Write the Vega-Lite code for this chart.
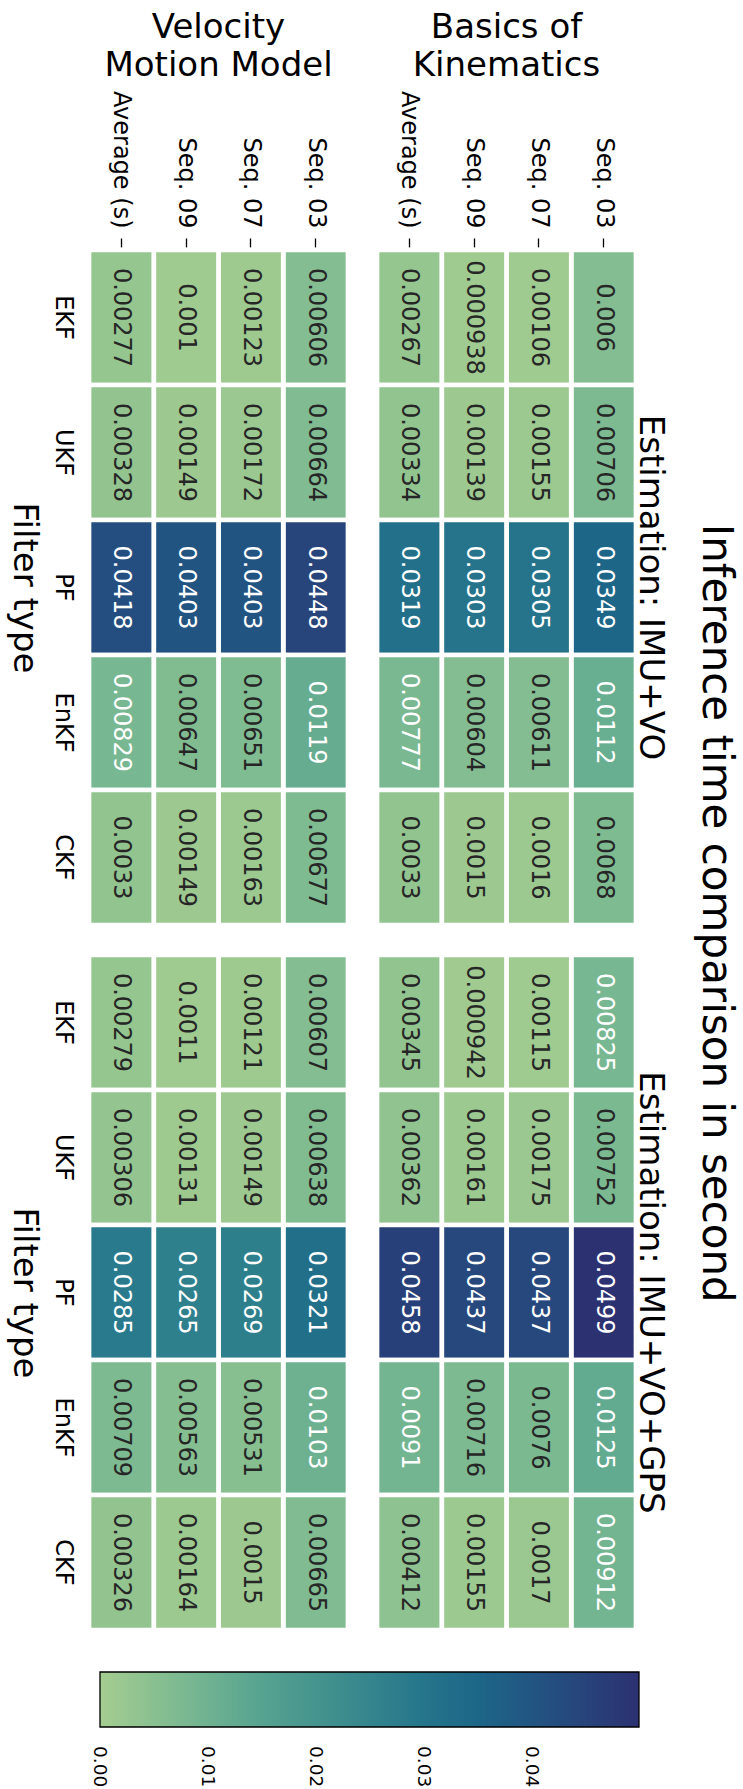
{
  "$schema": "https://vega.github.io/schema/vega-lite/v6.json",
  "background": "white",
  "padding": {"left": 6, "top": 10, "right": 6, "bottom": 2},
  "title": {
    "text": "Inference time comparison in second",
    "orient": "right",
    "anchor": "middle",
    "frame": "bounds",
    "fontSize": 42,
    "fontWeight": "normal",
    "font": "DejaVu Sans",
    "color": "black",
    "offset": 27,
    "dx": 14
  },
  "data": {
    "values": [
      {"model": "Basics of Kinematics", "est": "Estimation: IMU+VO", "seq": "Seq. 03", "filter": "EKF", "value": 0.006},
      {"model": "Basics of Kinematics", "est": "Estimation: IMU+VO", "seq": "Seq. 03", "filter": "UKF", "value": 0.00706},
      {"model": "Basics of Kinematics", "est": "Estimation: IMU+VO", "seq": "Seq. 03", "filter": "PF", "value": 0.0349},
      {"model": "Basics of Kinematics", "est": "Estimation: IMU+VO", "seq": "Seq. 03", "filter": "EnKF", "value": 0.0112},
      {"model": "Basics of Kinematics", "est": "Estimation: IMU+VO", "seq": "Seq. 03", "filter": "CKF", "value": 0.0068},
      {"model": "Basics of Kinematics", "est": "Estimation: IMU+VO", "seq": "Seq. 07", "filter": "EKF", "value": 0.00106},
      {"model": "Basics of Kinematics", "est": "Estimation: IMU+VO", "seq": "Seq. 07", "filter": "UKF", "value": 0.00155},
      {"model": "Basics of Kinematics", "est": "Estimation: IMU+VO", "seq": "Seq. 07", "filter": "PF", "value": 0.0305},
      {"model": "Basics of Kinematics", "est": "Estimation: IMU+VO", "seq": "Seq. 07", "filter": "EnKF", "value": 0.00611},
      {"model": "Basics of Kinematics", "est": "Estimation: IMU+VO", "seq": "Seq. 07", "filter": "CKF", "value": 0.0016},
      {"model": "Basics of Kinematics", "est": "Estimation: IMU+VO", "seq": "Seq. 09", "filter": "EKF", "value": 0.000938},
      {"model": "Basics of Kinematics", "est": "Estimation: IMU+VO", "seq": "Seq. 09", "filter": "UKF", "value": 0.00139},
      {"model": "Basics of Kinematics", "est": "Estimation: IMU+VO", "seq": "Seq. 09", "filter": "PF", "value": 0.0303},
      {"model": "Basics of Kinematics", "est": "Estimation: IMU+VO", "seq": "Seq. 09", "filter": "EnKF", "value": 0.00604},
      {"model": "Basics of Kinematics", "est": "Estimation: IMU+VO", "seq": "Seq. 09", "filter": "CKF", "value": 0.0015},
      {"model": "Basics of Kinematics", "est": "Estimation: IMU+VO", "seq": "Average (s)", "filter": "EKF", "value": 0.00267},
      {"model": "Basics of Kinematics", "est": "Estimation: IMU+VO", "seq": "Average (s)", "filter": "UKF", "value": 0.00334},
      {"model": "Basics of Kinematics", "est": "Estimation: IMU+VO", "seq": "Average (s)", "filter": "PF", "value": 0.0319},
      {"model": "Basics of Kinematics", "est": "Estimation: IMU+VO", "seq": "Average (s)", "filter": "EnKF", "value": 0.00777},
      {"model": "Basics of Kinematics", "est": "Estimation: IMU+VO", "seq": "Average (s)", "filter": "CKF", "value": 0.0033},

      {"model": "Basics of Kinematics", "est": "Estimation: IMU+VO+GPS", "seq": "Seq. 03", "filter": "EKF", "value": 0.00825},
      {"model": "Basics of Kinematics", "est": "Estimation: IMU+VO+GPS", "seq": "Seq. 03", "filter": "UKF", "value": 0.00752},
      {"model": "Basics of Kinematics", "est": "Estimation: IMU+VO+GPS", "seq": "Seq. 03", "filter": "PF", "value": 0.0499},
      {"model": "Basics of Kinematics", "est": "Estimation: IMU+VO+GPS", "seq": "Seq. 03", "filter": "EnKF", "value": 0.0125},
      {"model": "Basics of Kinematics", "est": "Estimation: IMU+VO+GPS", "seq": "Seq. 03", "filter": "CKF", "value": 0.00912},
      {"model": "Basics of Kinematics", "est": "Estimation: IMU+VO+GPS", "seq": "Seq. 07", "filter": "EKF", "value": 0.00115},
      {"model": "Basics of Kinematics", "est": "Estimation: IMU+VO+GPS", "seq": "Seq. 07", "filter": "UKF", "value": 0.00175},
      {"model": "Basics of Kinematics", "est": "Estimation: IMU+VO+GPS", "seq": "Seq. 07", "filter": "PF", "value": 0.0437},
      {"model": "Basics of Kinematics", "est": "Estimation: IMU+VO+GPS", "seq": "Seq. 07", "filter": "EnKF", "value": 0.0076},
      {"model": "Basics of Kinematics", "est": "Estimation: IMU+VO+GPS", "seq": "Seq. 07", "filter": "CKF", "value": 0.0017},
      {"model": "Basics of Kinematics", "est": "Estimation: IMU+VO+GPS", "seq": "Seq. 09", "filter": "EKF", "value": 0.000942},
      {"model": "Basics of Kinematics", "est": "Estimation: IMU+VO+GPS", "seq": "Seq. 09", "filter": "UKF", "value": 0.00161},
      {"model": "Basics of Kinematics", "est": "Estimation: IMU+VO+GPS", "seq": "Seq. 09", "filter": "PF", "value": 0.0437},
      {"model": "Basics of Kinematics", "est": "Estimation: IMU+VO+GPS", "seq": "Seq. 09", "filter": "EnKF", "value": 0.00716},
      {"model": "Basics of Kinematics", "est": "Estimation: IMU+VO+GPS", "seq": "Seq. 09", "filter": "CKF", "value": 0.00155},
      {"model": "Basics of Kinematics", "est": "Estimation: IMU+VO+GPS", "seq": "Average (s)", "filter": "EKF", "value": 0.00345},
      {"model": "Basics of Kinematics", "est": "Estimation: IMU+VO+GPS", "seq": "Average (s)", "filter": "UKF", "value": 0.00362},
      {"model": "Basics of Kinematics", "est": "Estimation: IMU+VO+GPS", "seq": "Average (s)", "filter": "PF", "value": 0.0458},
      {"model": "Basics of Kinematics", "est": "Estimation: IMU+VO+GPS", "seq": "Average (s)", "filter": "EnKF", "value": 0.0091},
      {"model": "Basics of Kinematics", "est": "Estimation: IMU+VO+GPS", "seq": "Average (s)", "filter": "CKF", "value": 0.00412},

      {"model": "Velocity Motion Model", "est": "Estimation: IMU+VO", "seq": "Seq. 03", "filter": "EKF", "value": 0.00606},
      {"model": "Velocity Motion Model", "est": "Estimation: IMU+VO", "seq": "Seq. 03", "filter": "UKF", "value": 0.00664},
      {"model": "Velocity Motion Model", "est": "Estimation: IMU+VO", "seq": "Seq. 03", "filter": "PF", "value": 0.0448},
      {"model": "Velocity Motion Model", "est": "Estimation: IMU+VO", "seq": "Seq. 03", "filter": "EnKF", "value": 0.0119},
      {"model": "Velocity Motion Model", "est": "Estimation: IMU+VO", "seq": "Seq. 03", "filter": "CKF", "value": 0.00677},
      {"model": "Velocity Motion Model", "est": "Estimation: IMU+VO", "seq": "Seq. 07", "filter": "EKF", "value": 0.00123},
      {"model": "Velocity Motion Model", "est": "Estimation: IMU+VO", "seq": "Seq. 07", "filter": "UKF", "value": 0.00172},
      {"model": "Velocity Motion Model", "est": "Estimation: IMU+VO", "seq": "Seq. 07", "filter": "PF", "value": 0.0403},
      {"model": "Velocity Motion Model", "est": "Estimation: IMU+VO", "seq": "Seq. 07", "filter": "EnKF", "value": 0.00651},
      {"model": "Velocity Motion Model", "est": "Estimation: IMU+VO", "seq": "Seq. 07", "filter": "CKF", "value": 0.00163},
      {"model": "Velocity Motion Model", "est": "Estimation: IMU+VO", "seq": "Seq. 09", "filter": "EKF", "value": 0.001},
      {"model": "Velocity Motion Model", "est": "Estimation: IMU+VO", "seq": "Seq. 09", "filter": "UKF", "value": 0.00149},
      {"model": "Velocity Motion Model", "est": "Estimation: IMU+VO", "seq": "Seq. 09", "filter": "PF", "value": 0.0403},
      {"model": "Velocity Motion Model", "est": "Estimation: IMU+VO", "seq": "Seq. 09", "filter": "EnKF", "value": 0.00647},
      {"model": "Velocity Motion Model", "est": "Estimation: IMU+VO", "seq": "Seq. 09", "filter": "CKF", "value": 0.00149},
      {"model": "Velocity Motion Model", "est": "Estimation: IMU+VO", "seq": "Average (s)", "filter": "EKF", "value": 0.00277},
      {"model": "Velocity Motion Model", "est": "Estimation: IMU+VO", "seq": "Average (s)", "filter": "UKF", "value": 0.00328},
      {"model": "Velocity Motion Model", "est": "Estimation: IMU+VO", "seq": "Average (s)", "filter": "PF", "value": 0.0418},
      {"model": "Velocity Motion Model", "est": "Estimation: IMU+VO", "seq": "Average (s)", "filter": "EnKF", "value": 0.00829},
      {"model": "Velocity Motion Model", "est": "Estimation: IMU+VO", "seq": "Average (s)", "filter": "CKF", "value": 0.0033},

      {"model": "Velocity Motion Model", "est": "Estimation: IMU+VO+GPS", "seq": "Seq. 03", "filter": "EKF", "value": 0.00607},
      {"model": "Velocity Motion Model", "est": "Estimation: IMU+VO+GPS", "seq": "Seq. 03", "filter": "UKF", "value": 0.00638},
      {"model": "Velocity Motion Model", "est": "Estimation: IMU+VO+GPS", "seq": "Seq. 03", "filter": "PF", "value": 0.0321},
      {"model": "Velocity Motion Model", "est": "Estimation: IMU+VO+GPS", "seq": "Seq. 03", "filter": "EnKF", "value": 0.0103},
      {"model": "Velocity Motion Model", "est": "Estimation: IMU+VO+GPS", "seq": "Seq. 03", "filter": "CKF", "value": 0.00665},
      {"model": "Velocity Motion Model", "est": "Estimation: IMU+VO+GPS", "seq": "Seq. 07", "filter": "EKF", "value": 0.00121},
      {"model": "Velocity Motion Model", "est": "Estimation: IMU+VO+GPS", "seq": "Seq. 07", "filter": "UKF", "value": 0.00149},
      {"model": "Velocity Motion Model", "est": "Estimation: IMU+VO+GPS", "seq": "Seq. 07", "filter": "PF", "value": 0.0269},
      {"model": "Velocity Motion Model", "est": "Estimation: IMU+VO+GPS", "seq": "Seq. 07", "filter": "EnKF", "value": 0.00531},
      {"model": "Velocity Motion Model", "est": "Estimation: IMU+VO+GPS", "seq": "Seq. 07", "filter": "CKF", "value": 0.0015},
      {"model": "Velocity Motion Model", "est": "Estimation: IMU+VO+GPS", "seq": "Seq. 09", "filter": "EKF", "value": 0.0011},
      {"model": "Velocity Motion Model", "est": "Estimation: IMU+VO+GPS", "seq": "Seq. 09", "filter": "UKF", "value": 0.00131},
      {"model": "Velocity Motion Model", "est": "Estimation: IMU+VO+GPS", "seq": "Seq. 09", "filter": "PF", "value": 0.0265},
      {"model": "Velocity Motion Model", "est": "Estimation: IMU+VO+GPS", "seq": "Seq. 09", "filter": "EnKF", "value": 0.00563},
      {"model": "Velocity Motion Model", "est": "Estimation: IMU+VO+GPS", "seq": "Seq. 09", "filter": "CKF", "value": 0.00164},
      {"model": "Velocity Motion Model", "est": "Estimation: IMU+VO+GPS", "seq": "Average (s)", "filter": "EKF", "value": 0.00279},
      {"model": "Velocity Motion Model", "est": "Estimation: IMU+VO+GPS", "seq": "Average (s)", "filter": "UKF", "value": 0.00306},
      {"model": "Velocity Motion Model", "est": "Estimation: IMU+VO+GPS", "seq": "Average (s)", "filter": "PF", "value": 0.0285},
      {"model": "Velocity Motion Model", "est": "Estimation: IMU+VO+GPS", "seq": "Average (s)", "filter": "EnKF", "value": 0.00709},
      {"model": "Velocity Motion Model", "est": "Estimation: IMU+VO+GPS", "seq": "Average (s)", "filter": "CKF", "value": 0.00326}
    ]
  },
  "facet": {
    "row": {
      "field": "est",
      "type": "nominal",
      "sort": ["Estimation: IMU+VO", "Estimation: IMU+VO+GPS"],
      "title": null,
      "header": {
        "labelOrient": "right",
        "labelAngle": 90,
        "labelAlign": "center",
        "labelBaseline": "alphabetic",
        "labelFontSize": 34,
        "labelFont": "DejaVu Sans",
        "labelColor": "black",
        "labelPadding": -33
      }
    },
    "column": {
      "field": "model",
      "type": "nominal",
      "sort": ["Velocity Motion Model", "Basics of Kinematics"],
      "title": null,
      "header": {
        "labelOrient": "top",
        "labelExpr": "datum.value == 'Basics of Kinematics' ? ['Basics of', 'Kinematics'] : ['Velocity', 'Motion Model']",
        "labelFontSize": 34,
        "labelFont": "DejaVu Sans",
        "labelColor": "black",
        "labelLineHeight": 38,
        "labelPadding": 8
      }
    }
  },
  "spacing": {"row": 24, "column": 23},
  "spec": {
    "width": 259,
    "height": 675,
    "encoding": {
      "x": {
        "field": "seq",
        "type": "nominal",
        "sort": ["Average (s)", "Seq. 09", "Seq. 07", "Seq. 03"],
        "scale": {"paddingInner": 0, "paddingOuter": 0},
        "axis": {
          "orient": "top",
          "title": null,
          "labelAngle": 90,
          "labelAlign": "right",
          "labelBaseline": "middle",
          "labelFontSize": 24,
          "labelColor": "black",
          "labelPadding": 10,
          "tickSize": 9,
          "tickWidth": 1.3,
          "tickColor": "black",
          "domain": false
        }
      },
      "y": {
        "field": "filter",
        "type": "nominal",
        "sort": ["EKF", "UKF", "PF", "EnKF", "CKF"],
        "scale": {"paddingInner": 0, "paddingOuter": 0},
        "axis": {
          "title": "Filter type",
          "titleAngle": 90,
          "titleBaseline": "top",
          "titleFontSize": 34,
          "titleFontWeight": "normal",
          "titleColor": "black",
          "titlePadding": 10,
          "labelAngle": 90,
          "labelAlign": "center",
          "labelBaseline": "top",
          "labelFontSize": 24,
          "labelColor": "black",
          "labelPadding": 12,
          "ticks": false,
          "domain": false
        }
      }
    },
    "layer": [
      {
        "mark": {"type": "rect", "stroke": "white", "strokeWidth": 4.7},
        "encoding": {
          "color": {
            "field": "value",
            "type": "quantitative",
            "scale": {
              "domain": [0, 0.00713, 0.01426, 0.02139, 0.02851, 0.03564, 0.04277, 0.0499],
              "range": ["#a5cd90", "#7dba91", "#59a590", "#40908e", "#287a8c", "#1c6488", "#254b7f", "#2c3172"],
              "interpolate": "rgb"
            },
            "legend": {
              "orient": "none",
              "legendX": 11,
              "legendY": 1422,
              "direction": "horizontal",
              "title": null,
              "gradientLength": 539,
              "gradientThickness": 55,
              "gradientStrokeColor": "black",
              "gradientStrokeWidth": 1.3,
              "values": [0, 0.01, 0.02, 0.03, 0.04],
              "format": ".2f",
              "labelFontSize": 18.5,
              "labelColor": "black",
              "labelOffset": 19,
              "labelOverlap": false,
              "labelLimit": 200,
              "encode": {
                "labels": {
                  "update": {
                    "angle": {"value": 90},
                    "align": {"value": "left"},
                    "baseline": {"value": "middle"}
                  }
                }
              }
            }
          }
        }
      },
      {
        "mark": {"type": "text", "angle": 90, "fontSize": 24, "align": "center", "baseline": "middle"},
        "encoding": {
          "text": {"field": "value", "type": "quantitative", "format": ".3~g"},
          "color": {
            "condition": {"test": "datum.value > 0.0077", "value": "white"},
            "value": "#262626"
          }
        }
      }
    ]
  },
  "config": {
    "font": "DejaVu Sans",
    "view": {"stroke": null}
  }
}
